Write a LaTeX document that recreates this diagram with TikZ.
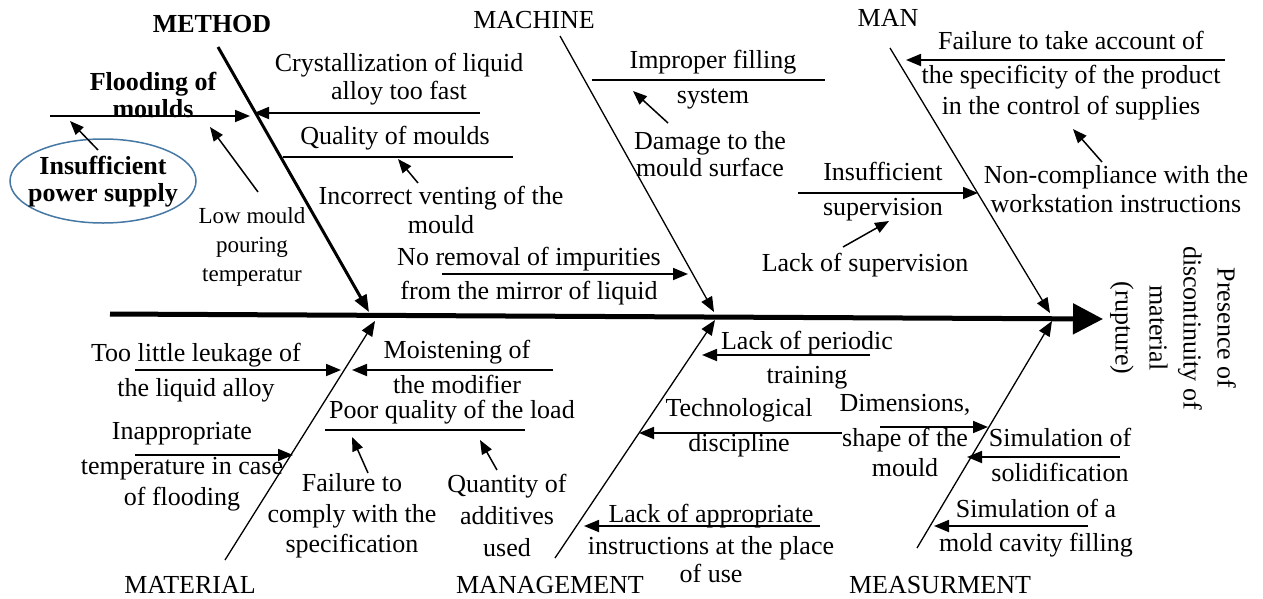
\documentclass[tikz,border=0pt]{standalone}
\usepackage{fontspec}
\setmainfont{Liberation Serif}
\usetikzlibrary{arrows.meta,shapes.geometric}
\definecolor{ellblue}{RGB}{70,120,165}
\begin{document}
\begin{tikzpicture}[x=1pt,y=-1pt,
  lbl/.style={align=center,inner sep=0pt,font=\fontsize{26}{29}\selectfont},
  blbl/.style={align=center,inner sep=0pt,font=\bfseries\fontsize{26}{27}\selectfont},
  slbl/.style={align=center,inner sep=0pt,font=\fontsize{23}{29}\selectfont},
  tip/.style={-{Triangle[length=15pt,width=12pt]}},
  bonethin/.style={line width=1.3pt,tip},
  bonethick/.style={line width=3pt,-{Triangle[length=17pt,width=13pt]}},
  spine/.style={line width=5pt,-{Triangle[length=30pt,width=30pt]}},
  subarrow/.style={line width=1.8pt,tip},
  subline/.style={line width=1.8pt},
  minor/.style={line width=1.5pt,-{Triangle[length=14pt,width=11pt]}}]
\fill[white] (0,0) rectangle (1263,598);
\useasboundingbox (0,0) rectangle (1263,598);

% ---------- spine and effect ----------
\coordinate (sp0) at (110,314);
\coordinate (sp1) at (1103,319);
\draw[spine] (sp0) -- (sp1);
\node[lbl,rotate=-90] (effect) at (1173,328) {Presence of\\[5pt]discontinuity of\\[5pt]material\\[5pt](rupture)};

% ---------- main bones ----------
\coordinate (meA) at (218,47);  \coordinate (meB) at (369,312);
\coordinate (mcA) at (560,36);  \coordinate (mcB) at (714,312);
\coordinate (mnA) at (890,48);  \coordinate (mnB) at (1050,313);
\coordinate (maA) at (225,560); \coordinate (maB) at (375,321);
\coordinate (mgA) at (555,558); \coordinate (mgB) at (715,320);
\coordinate (msA) at (917,548); \coordinate (msB) at (1052,321);
\draw[bonethick] (meA) -- (meB);
\draw[bonethin] (mcA) -- (mcB);
\draw[bonethin] (mnA) -- (mnB);
\draw[bonethin] (maA) -- (maB);
\draw[bonethin] (mgA) -- (mgB);
\draw[bonethin] (msA) -- (msB);

\node[blbl] (method) at (212,24) {METHOD};
\node[lbl] (machine) at (534,20) {MACHINE};
\node[lbl] (man) at (888,18) {MAN};
\node[lbl] (material) at (190,585) {MATERIAL};
\node[lbl] (management) at (550,585) {MANAGEMENT};
\node[lbl] (measurment) at (940,585) {MEASURMENT};

% ---------- METHOD ----------
\node[blbl] (flood) at (153,95) {Flooding of\\moulds};
\coordinate (fl0) at (50,116); \coordinate (fl1) at (250,116);
\draw[subarrow] (fl0) -- (fl1);
\node[ellipse,draw=ellblue,line width=1.5pt,minimum width=186pt,minimum height=84pt,inner sep=0pt] (ellip) at (103,181) {};
\node[blbl] (power) at (103,182) {Insufficient\\power supply};
\coordinate (pw0) at (98,150); \coordinate (pw1) at (70,121);
\draw[minor] (pw0) -- (pw1);
\node[slbl] (low) at (252,247) {Low mould\\pouring\\temperatur};
\coordinate (lo0) at (258,192); \coordinate (lo1) at (210,127);
\draw[minor] (lo0) -- (lo1);
\node[lbl] (cryst) at (399,79) {Crystallization of liquid\\[-1pt]alloy too fast};
\coordinate (cr0) at (480,113); \coordinate (cr1) at (254,113);
\draw[subarrow] (cr0) -- (cr1);
\node[lbl] (qual) at (395,138) {Quality of moulds};
\coordinate (qm0) at (283,157); \coordinate (qm1) at (513,157);
\draw[subline] (qm0) -- (qm1);
\node[lbl] (vent) at (441,210) {Incorrect venting of the\\mould};
\coordinate (ve0) at (418,183); \coordinate (ve1) at (398,159);
\draw[minor] (ve0) -- (ve1);
\node[lbl] (impur) at (529,276) {No removal of impurities\\[5pt]from the mirror of liquid};
\coordinate (im0) at (442,274); \coordinate (im1) at (688,274);
\draw[subarrow] (im0) -- (im1);

% ---------- MACHINE ----------
\node[lbl] (improper) at (713,80) {Improper filling\\[6pt]system};
\coordinate (ip0) at (592,80); \coordinate (ip1) at (825,80);
\draw[subline] (ip0) -- (ip1);
\node[lbl] (damage) at (710,154) {Damage to the\\[-2pt]mould surface};
\coordinate (dm0) at (668,123); \coordinate (dm1) at (633,91);
\draw[minor] (dm0) -- (dm1);

% ---------- MAN ----------
\node[lbl] (failure) at (1071,76) {Failure to take account of\\[5pt]the specificity of the product\\[2pt]in the control of supplies};
\coordinate (fa0) at (1225,60); \coordinate (fa1) at (906,60);
\draw[subarrow] (fa0) -- (fa1);
\node[lbl] (noncomp) at (1116,189) {Non-compliance with the\\workstation instructions};
\coordinate (nc0) at (1102,162); \coordinate (nc1) at (1073,129);
\draw[minor] (nc0) -- (nc1);
\node[lbl] (insup) at (883,192) {Insufficient\\[6pt]supervision};
\coordinate (is0) at (798,193); \coordinate (is1) at (978,193);
\draw[subarrow] (is0) -- (is1);
\node[lbl] (lacksup) at (865,265) {Lack of supervision};
\coordinate (ls0) at (843,247); \coordinate (ls1) at (889,221);
\draw[minor] (ls0) -- (ls1);

% ---------- MATERIAL ----------
\node[lbl] (leuk) at (196,373) {Too little leukage of\\[6pt]the liquid alloy};
\coordinate (lk0) at (135,370); \coordinate (lk1) at (341,370);
\draw[subarrow] (lk0) -- (lk1);
\node[lbl] (inapp) at (182,467) {Inappropriate\\[6pt]temperature in case\\[2pt]of flooding};
\coordinate (ia0) at (135,455); \coordinate (ia1) at (293,455);
\draw[subarrow] (ia0) -- (ia1);
\node[lbl] (moist) at (457,367) {Moistening of\\[6pt]the modifier};
\coordinate (mo0) at (553,370); \coordinate (mo1) at (352,370);
\draw[subarrow] (mo0) -- (mo1);
\node[lbl] (poor) at (452,412) {Poor quality of the load};
\coordinate (pq0) at (325,430); \coordinate (pq1) at (525,430);
\draw[subline] (pq0) -- (pq1);
\node[lbl] (comply) at (352,516) {Failure to\\[2pt]comply with the\\[1pt]specification};
\coordinate (co0) at (368,473); \coordinate (co1) at (352,437);
\draw[minor] (co0) -- (co1);
\node[lbl] (quant) at (507,515) {Quantity of\\[3pt]additives\\[3pt]used};
\coordinate (qu0) at (497,470); \coordinate (qu1) at (480,440);
\draw[minor] (qu0) -- (qu1);

% ---------- MANAGEMENT ----------
\node[lbl] (period) at (807,360) {Lack of periodic\\[5pt]training};
\coordinate (pe0) at (870,355); \coordinate (pe1) at (702,355);
\draw[subarrow] (pe0) -- (pe1);
\node[lbl] (techno) at (739,428) {Technological\\[6pt]discipline};
\coordinate (te0) at (842,433); \coordinate (te1) at (639,433);
\draw[subarrow] (te0) -- (te1);
\node[lbl] (instr) at (711,543) {Lack of appropriate\\[3pt]instructions at the place\\[-1pt]of use};
\coordinate (in0) at (820,526); \coordinate (in1) at (584,526);
\draw[subarrow] (in0) -- (in1);

% ---------- MEASURMENT ----------
\node[lbl] (dimen) at (905,436) {Dimensions,\\[6pt]shape of the\\[1pt]mould};
\coordinate (di0) at (880,427); \coordinate (di1) at (988,427);
\draw[subarrow] (di0) -- (di1);
\node[lbl] (simsol) at (1060,455) {Simulation of\\[6pt]solidification};
\coordinate (ss0) at (1120,457); \coordinate (ss1) at (967,457);
\draw[subarrow] (ss0) -- (ss1);
\node[lbl] (simfill) at (1036,528) {Simulation of a\\[5pt]mold cavity filling};
\coordinate (sf0) at (1088,526); \coordinate (sf1) at (934,526);
\draw[subarrow] (sf0) -- (sf1);
\end{tikzpicture}
\end{document}
